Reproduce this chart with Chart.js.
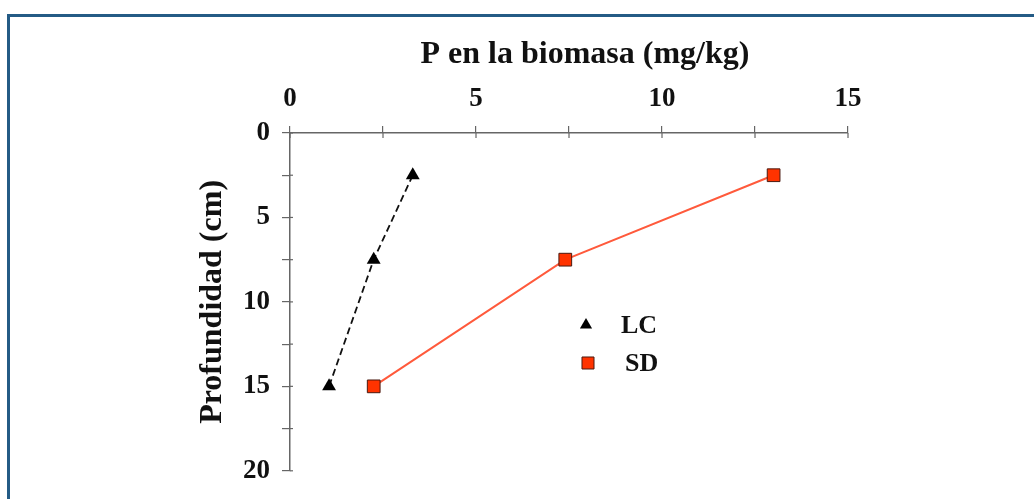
<!DOCTYPE html>
<html>
<head>
<meta charset="utf-8">
<script src="https://cdn.jsdelivr.net/npm/chart.js@4.4.1/dist/chart.umd.min.js"></script>
<style>
  html, body { margin: 0; padding: 0; background: #fff; overflow: hidden; }
  #frame {
    position: absolute; left: 7px; top: 14px; width: 1100px; height: 600px;
    border-top: 3px solid #245b85; border-left: 3px solid #245b85;
  }
  canvas { position: absolute; left: 0; top: 0; }
</style>
</head>
<body>
<div id="frame"></div>
<canvas id="myChart" width="1034" height="499"></canvas>
<script>
// depth of each sample (cm)
const depths = [2.5, 7.5, 15];
// P in biomass (mg/kg)
const lcValues = [3.3, 2.25, 1.05];
const sdValues = [13.0, 7.4, 2.25];
const seriesNames = ['LC', 'SD'];

const serif = "'Liberation Serif', 'Times New Roman', serif";
const axisColor = '#666';

function toPoints(values) {
    return values.map((v, i) => ({ x: v, y: depths[i] }));
}

// tick marks cross the axis lines in the original, draw the inside part
const innerTicks = {
    id: 'innerTicks',
    afterDraw(chart) {
        const ctx = chart.ctx;
        const area = chart.chartArea;
        ctx.save();
        ctx.strokeStyle = axisColor;
        ctx.lineWidth = 1.2;
        chart.scales.x.ticks.forEach(t => {
            const px = chart.scales.x.getPixelForValue(t.value);
            ctx.beginPath();
            ctx.moveTo(px, area.top);
            ctx.lineTo(px, area.top + 5);
            ctx.stroke();
        });
        chart.scales.y.ticks.forEach(t => {
            const py = chart.scales.y.getPixelForValue(t.value);
            ctx.beginPath();
            ctx.moveTo(area.left, py);
            ctx.lineTo(area.left + 3, py);
            ctx.stroke();
        });
        ctx.restore();
    }
};

// legend sits inside the plot area
const insideLegend = {
    id: 'insideLegend',
    afterDraw(chart) {
        const ctx = chart.ctx;
        const area = chart.chartArea;
        const rows = [
            { mx: 296, tx: 331, y: 192 },
            { mx: 298, tx: 335, y: 230 }
        ];
        chart.data.datasets.forEach((ds, i) => {
            const r = rows[i];
            const x = area.left + r.mx;
            const y = area.top + r.y;
            const s = ds.legendRadius;
            ctx.save();
            ctx.fillStyle = ds.pointBackgroundColor;
            ctx.strokeStyle = ds.pointBorderColor;
            ctx.lineWidth = ds.pointBorderWidth || 1;
            ctx.beginPath();
            if (ds.pointStyle === 'triangle') {
                ctx.moveTo(x, y - s);
                ctx.lineTo(x + s * 0.87, y + s * 0.5);
                ctx.lineTo(x - s * 0.87, y + s * 0.5);
                ctx.closePath();
            } else {
                const h = s * Math.SQRT1_2;
                ctx.rect(x - h, y - h, 2 * h, 2 * h);
            }
            ctx.fill();
            if (ds.pointBorderWidth) ctx.stroke();
            ctx.fillStyle = '#111';
            ctx.font = 'bold 26px ' + serif;
            ctx.textAlign = 'left';
            ctx.textBaseline = 'middle';
            ctx.fillText(ds.label, area.left + r.tx, y + 1);
            ctx.restore();
        });
    }
};

const graphData = {
    type: 'scatter',
    data: {
        datasets: [{
            label: seriesNames[0],
            data: toPoints(lcValues),
            showLine: true,
            borderColor: '#111',
            borderWidth: 1.8,
            borderDash: [7, 4],
            pointStyle: 'triangle',
            pointRadius: 8,
            legendRadius: 7,
            pointBackgroundColor: '#000',
            pointBorderColor: '#000',
            pointBorderWidth: 0
        }, {
            label: seriesNames[1],
            data: toPoints(sdValues),
            showLine: true,
            borderColor: '#ff5a3c',
            borderWidth: 2,
            pointStyle: 'rect',
            pointRadius: 9,
            legendRadius: 8.5,
            pointBackgroundColor: '#ff3300',
            pointBorderColor: '#4a1a10',
            pointBorderWidth: 1
        }]
    },
    options: {
        responsive: false,
        animation: false,
        layout: { padding: { left: 180, top: 18, right: 186, bottom: 25 } },
        plugins: { legend: { display: false }, tooltip: { enabled: false } },
        scales: {
            x: {
                type: 'linear',
                position: 'top',
                min: 0, max: 15,
                afterFit(scale) { scale.height = 115; },
                border: { color: axisColor, width: 1.5 },
                grid: { drawOnChartArea: false, drawTicks: true, tickLength: 7, color: axisColor, lineWidth: 1.2 },
                ticks: {
                    stepSize: 2.5,
                    padding: 11,
                    color: '#111',
                    font: { family: serif, size: 27, weight: 'bold' },
                    callback: v => (v % 5 === 0 ? v : '')
                },
                title: {
                    display: true,
                    // leading spaces push the title a little right of centre, as in the original
                    text: '    P en la biomasa (mg/kg)',
                    color: '#111',
                    padding: { top: 18, bottom: 0 },
                    font: { family: serif, size: 32, weight: 'bold' }
                }
            },
            y: {
                type: 'linear',
                reverse: true,
                min: 0, max: 20,
                afterFit(scale) { scale.width = 110; },
                border: { color: axisColor, width: 1.5 },
                grid: { drawOnChartArea: false, drawTicks: true, tickLength: 8, color: axisColor, lineWidth: 1.2 },
                ticks: {
                    stepSize: 2.5,
                    padding: 12,
                    color: '#111',
                    font: { family: serif, size: 27, weight: 'bold' },
                    callback: v => (v % 5 === 0 ? v : '')
                },
                title: {
                    display: true,
                    text: 'Profundidad (cm)',
                    color: '#111',
                    padding: { top: 14, bottom: 0 },
                    font: { family: serif, size: 32, weight: 'bold' }
                }
            }
        }
    },
    plugins: [innerTicks, insideLegend]
};

const ctx = document.getElementById('myChart').getContext('2d');
const myChart = new Chart(ctx, graphData);
</script>
</body>
</html>
